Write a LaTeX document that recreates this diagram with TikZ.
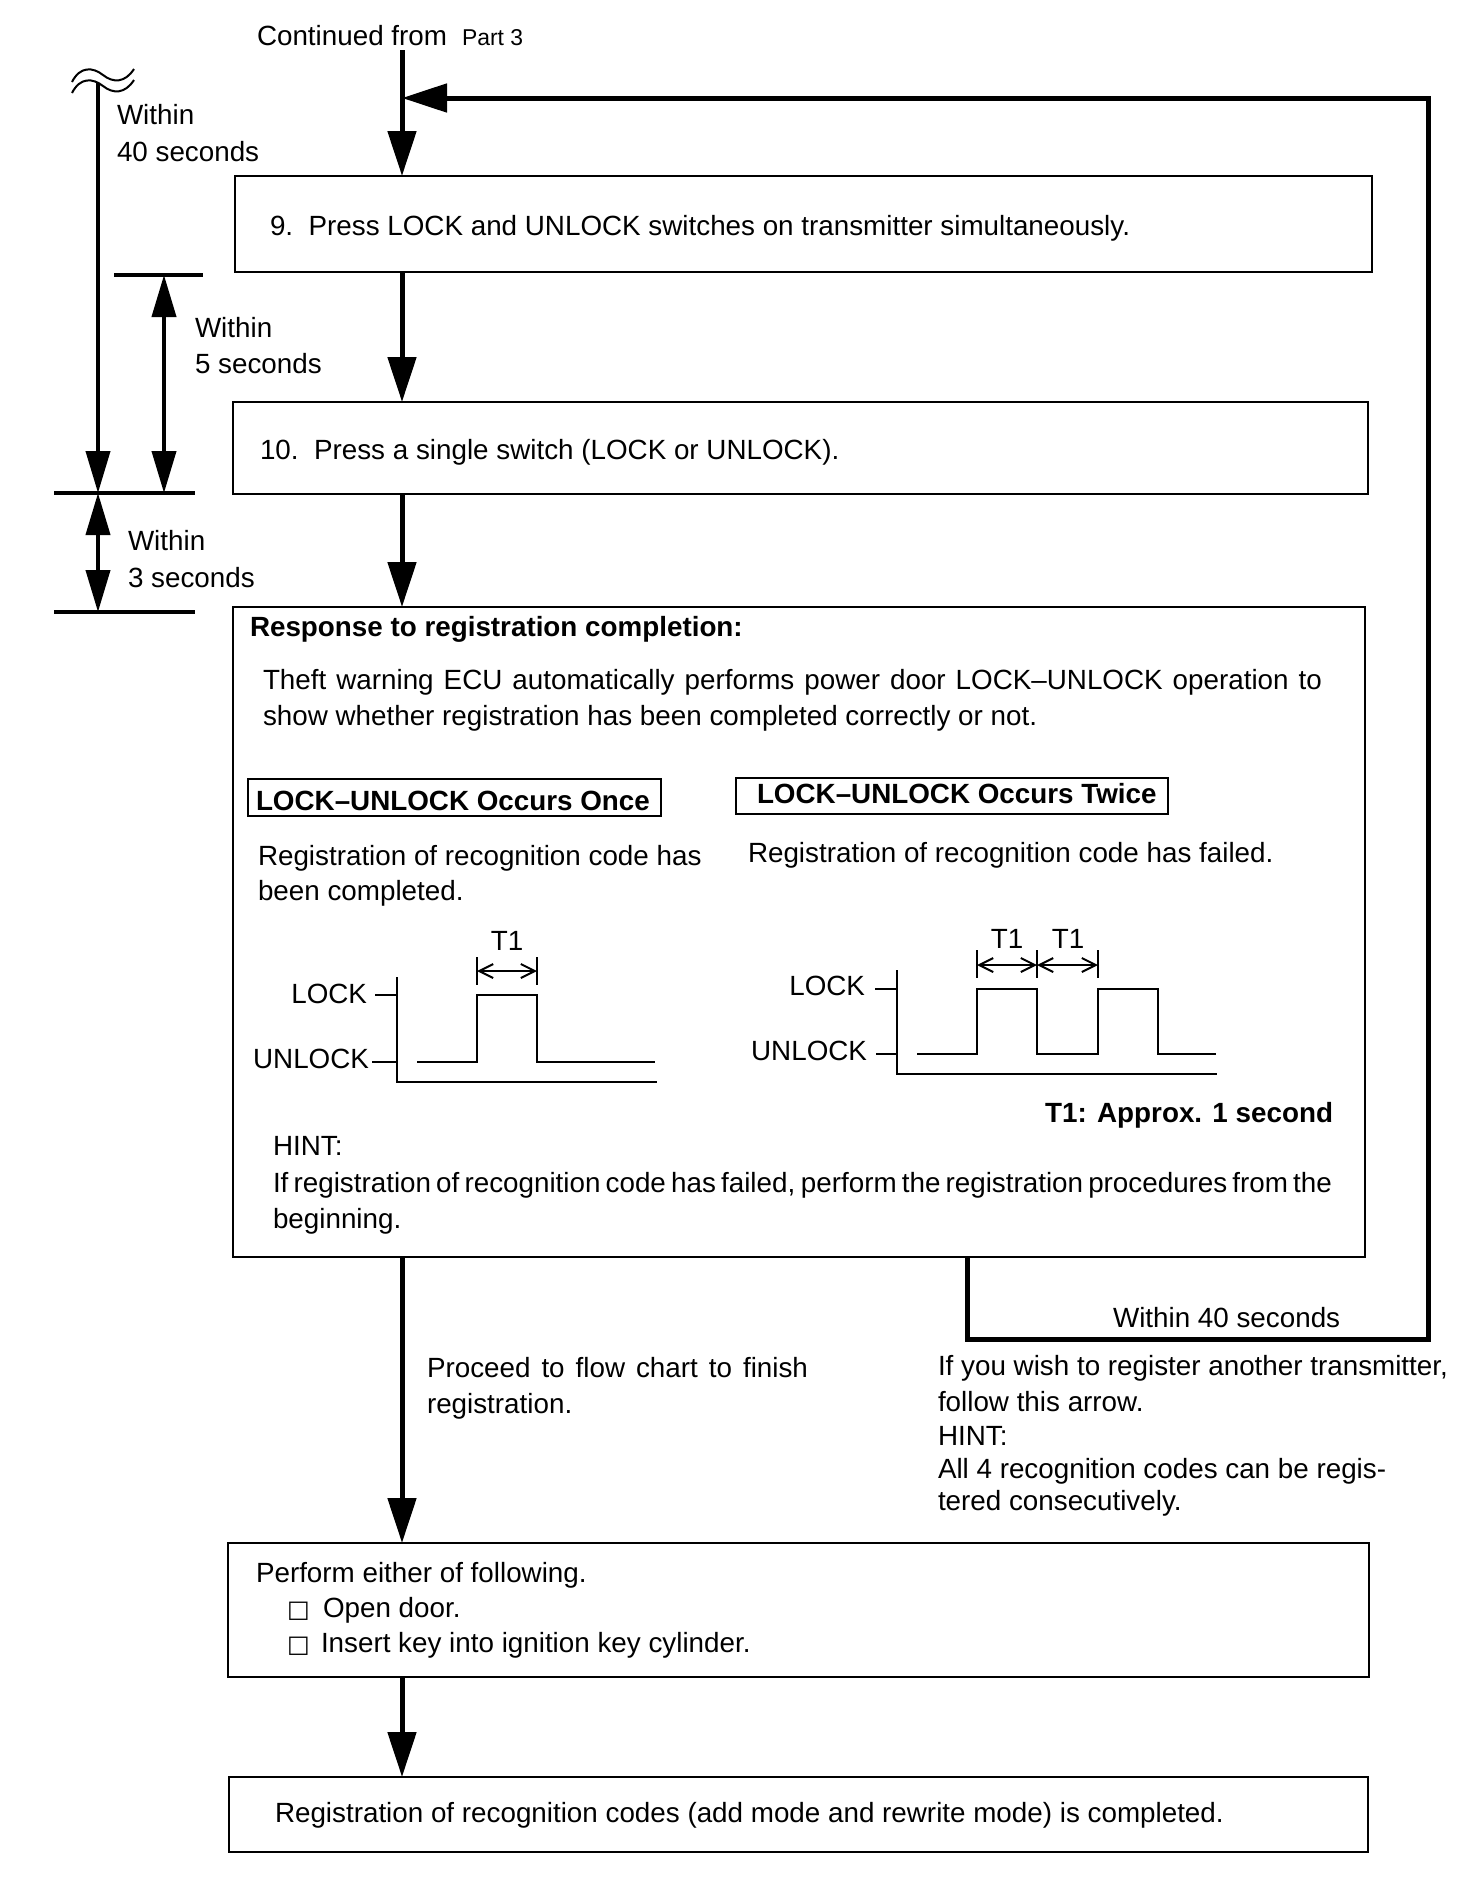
\documentclass[tikz,border=0pt]{standalone}
\usepackage{fontspec}
\setmainfont{Liberation Sans}
\newfontfamily\symfont{DejaVu Sans}
\usetikzlibrary{arrows.meta,fit}
\newcommand\nf{\fontsize{13.9pt}{18pt}\selectfont}
\newcommand\smf{\fontsize{11.45pt}{14pt}\selectfont}
\begin{document}
\begin{tikzpicture}[x=0.5pt,y=-0.5pt,
  every node/.style={inner sep=0pt, outer sep=0pt},
  txt/.style={font=\nf, anchor=base west},
  txtr/.style={font=\nf, anchor=base east},
  txtc/.style={font=\nf, anchor=base},
  btxt/.style={font=\nf\bfseries, anchor=base west},
  frm/.style={draw, line width=1pt, inner sep=0pt},
  flow/.style={line width=2.5pt, -{Triangle[length=22.5pt,width=14pt]}},
  dimln/.style={line width=2pt},
  dimone/.style={line width=2pt, -{Triangle[length=21pt,width=12pt]}},
  dimtwo/.style={line width=2pt, {Triangle[length=21pt,width=12pt]}-{Triangle[length=21pt,width=12pt]}},
  sig/.style={line width=1pt},
  tarr/.style={line width=1pt, {Straight Barb[length=7pt,width=7pt]}-{Straight Barb[length=7pt,width=7pt]}},
  sq/.style={font=\symfont\fontsize{12pt}{14pt}\selectfont, anchor=base west}
]
\fill[white] (0,0) rectangle (1472,1896);
\useasboundingbox (0,0) rectangle (1472,1896);

% top label
\node[txt] (cont) at (257,45) {Continued from};
\node[font=\smf, anchor=base west] (part) at (462,45) {Part 3};
\coordinate (start) at (402,50);

% boxes
\node[frm, fit={(235,176) (1372,272)}] (b9) {};
\node[txt] (t9) at (270,235) {9.\ \ Press LOCK and UNLOCK switches on transmitter simultaneously.};
\node[frm, fit={(233,402) (1368,494)}] (b10) {};
\node[txt] (t10) at (260,459) {10.\ \ Press a single switch (LOCK or UNLOCK).};
\node[frm, fit={(233,607) (1365,1257)}] (resp) {};
\node[frm, fit={(228,1543) (1369,1677)}] (perf) {};
\node[frm, fit={(229,1777) (1368,1852)}] (fin) {};

% response box content
\node[btxt] (rtitle) at (250,636) {Response to registration completion:};
\node[txt] (th1) at (263,689) {\makebox[529.5pt][s]{Theft warning ECU automatically performs power door LOCK–UNLOCK operation to}};
\node[txt] (th2) at (263,725) {show whether registration has been completed correctly or not.};
\node[frm, fit={(248,779) (661,816)}] (oncebox) {};
\node[btxt] (once) at (256,810) {LOCK–UNLOCK Occurs Once};
\node[frm, fit={(736,778) (1168,814)}] (twicebox) {};
\node[btxt] (twice) at (757,803) {LOCK–UNLOCK Occurs Twice};
\node[txt] (ok1) at (258,865) {Registration of recognition code has};
\node[txt] (ok2) at (258,900) {been completed.};
\node[txt] (fail1) at (748,862) {Registration of recognition code has failed.};

% waveform 1
\node[txtc] (t1a) at (507,950) {T1};
\node[txtr] (lk1) at (367,1003) {LOCK};
\node[txtr] (ul1) at (369,1068) {UNLOCK};
\draw[sig] (397,977) -- (397,1082) -- (657,1082);
\draw[sig] (375,995) -- (397,995);
\draw[sig] (372,1062) -- (397,1062);
\draw[sig] (417,1062) -- (477,1062) -- (477,995) -- (537,995) -- (537,1062) -- (655,1062);
\draw[sig] (477,957) -- (477,985);
\draw[sig] (537,957) -- (537,985);
\draw[tarr] (477,971) -- (537,971);

% waveform 2
\node[txtc] (t1b) at (1007,948) {T1};
\node[txtc] (t1c) at (1068,948) {T1};
\node[txtr] (lk2) at (865,995) {LOCK};
\node[txtr] (ul2) at (867,1060) {UNLOCK};
\draw[sig] (897,970) -- (897,1074) -- (1217,1074);
\draw[sig] (875,989) -- (897,989);
\draw[sig] (876,1054) -- (897,1054);
\draw[sig] (917,1054) -- (977,1054) -- (977,989) -- (1037,989) -- (1037,1054) -- (1098,1054) -- (1098,989) -- (1158,989) -- (1158,1054) -- (1216,1054);
\draw[sig] (977,950) -- (977,978);
\draw[sig] (1037,950) -- (1037,978);
\draw[sig] (1098,950) -- (1098,978);
\draw[tarr] (977,965) -- (1037,965);
\draw[tarr] (1037,965) -- (1098,965);
\node[btxt, anchor=base east] (approx) at (1333,1122) {T1: Approx. 1 second};

\node[txt] (hint1) at (273,1155) {HINT:};
\node[txt] (hint2) at (273,1192) {\makebox[528.5pt][s]{If registration of recognition code has failed, perform the registration procedures from the}};
\node[txt] (hint3) at (273,1228) {beginning.};

% below response box
\node[txt] (proc1) at (427,1377) {\makebox[190.5pt][s]{Proceed to flow chart to finish}};
\node[txt] (proc2) at (427,1413) {registration.};
\node[txt] (w40b) at (1113,1327) {Within 40 seconds};
\node[txt] (ano1) at (938,1375) {If you wish to register another transmitter,};
\node[txt] (ano2) at (938,1411) {follow this arrow.};
\node[txt] (ano3) at (938,1445) {HINT:};
\node[txt] (ano4) at (938,1478) {All 4 recognition codes can be regis-};
\node[txt] (ano5) at (938,1510) {tered consecutively.};

% perform box content
\node[txt] (pf1) at (256,1582) {Perform either of following.};
\node[sq] (sq1) at (287,1617) {□};
\node[txt] (pf2) at (323,1617) {Open door.};
\node[sq] (sq2) at (287,1652) {□};
\node[txt] (pf3) at (321,1652) {Insert key into ignition key cylinder.};
\node[txt] (fint) at (275,1822) {Registration of recognition codes (add mode and rewrite mode) is completed.};

% main flow
\draw[flow] (start) -- (start |- b9.north);
\draw[flow] (start |- b9.south) -- (start |- b10.north);
\draw[flow] (start |- b10.south) -- (start |- resp.north);
\draw[flow] (start |- resp.south) -- (start |- perf.north);
\draw[flow] (start |- perf.south) -- (start |- fin.north);

% loop back
\coordinate (lpL) at (967,1339);
\coordinate (lpR) at (1428,1339);
\coordinate (lpT) at (1428,98);
\draw[flow] (lpL |- resp.south) -- (lpL) -- (lpR) -- (lpT) -- (start |- lpT);

% left timing dimensions
\coordinate (d40) at (98,83);
\coordinate (d5) at (164,275);
\coordinate (tk1a) at (114,275);
\coordinate (tk1b) at (203,275);
\coordinate (tk2a) at (54,493);
\coordinate (tk2b) at (195,493);
\coordinate (tk3a) at (54,612);
\coordinate (tk3b) at (195,612);
\draw[dimln] (tk1a) -- (tk1b);
\draw[dimln] (tk2a) -- (tk2b);
\draw[dimln] (tk3a) -- (tk3b);
\draw[dimone] (d40) -- (d40 |- tk2a);
\draw[dimtwo] (d5) -- (d5 |- tk2a);
\draw[dimtwo] (d40 |- tk2a) -- (d40 |- tk3a);
\draw[line width=1pt] (72,82) .. controls (80,66) and (93,67) .. (103,75) .. controls (113,83) and (125,83) .. (134,69);
\draw[line width=1pt] (72,93) .. controls (80,77) and (93,78) .. (103,86) .. controls (113,94) and (125,94) .. (134,80);

\node[txt] (w40a) at (117,124) {Within};
\node[txt] (w40c) at (117,161) {40 seconds};
\node[txt] (w5a) at (195,337) {Within};
\node[txt] (w5b) at (195,373) {5 seconds};
\node[txt] (w3a) at (128,550) {Within};
\node[txt] (w3b) at (128,587) {3 seconds};
\end{tikzpicture}
\end{document}
